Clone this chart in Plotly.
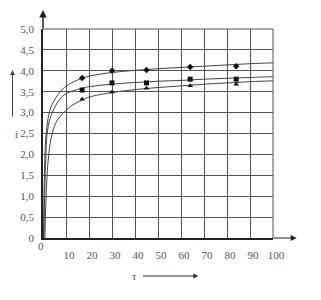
import plotly.graph_objects as go

# measured points
tau_pts = [17, 30, 45, 64, 84]
upper_pts = [3.83, 4.00, 4.02, 4.09, 4.11]
middle_pts = [3.54, 3.71, 3.71, 3.80, 3.80]
lower_pts = [3.32, 3.49, 3.58, 3.64, 3.68]

# fitted curves
upper_tau = [0.2, 0.5, 1, 1.5, 2.5, 4, 7.5, 10, 15, 20, 30, 40, 50, 60, 70, 80, 90, 100]
upper_i = [0.0, 1.2, 2.2, 2.55, 2.95, 3.2, 3.5, 3.63, 3.78, 3.87, 3.96, 4.01, 4.05, 4.08, 4.11, 4.14, 4.17, 4.19]
middle_tau = [0.4, 0.8, 1.2, 1.8, 3, 4, 7, 10, 16, 20, 30, 40, 50, 60, 70, 80, 90, 100]
middle_i = [0.0, 1.2, 1.9, 2.5, 2.85, 3.0, 3.3, 3.45, 3.57, 3.62, 3.68, 3.72, 3.75, 3.77, 3.8, 3.82, 3.84, 3.86]
lower_tau = [0.8, 1.5, 2.5, 4, 6, 9, 12, 17, 20, 30, 40, 50, 60, 70, 80, 90, 100]
lower_i = [0.0, 1.2, 2.0, 2.5, 2.8, 3.0, 3.15, 3.3, 3.37, 3.48, 3.55, 3.6, 3.64, 3.68, 3.71, 3.74, 3.76]

x_ticks = [10, 20, 30, 40, 50, 60, 70, 80, 90, 100]
y_ticks = [0, 0.5, 1.0, 1.5, 2.0, 2.5, 3.0, 3.5, 4.0, 4.5, 5.0]
y_labels = ["0", "0,5", "1,0", "1,5", "2,0", "2,5", "3,0", "3,5", "4,0", "4,5", "5,0"]

FONT = "Liberation Serif"
fig = go.Figure()
for tx, ty in [(upper_tau, upper_i), (middle_tau, middle_i), (lower_tau, lower_i)]:
    fig.add_trace(go.Scatter(x=tx, y=ty, mode="lines", line=dict(color="#444", width=1, shape="spline"),
                             showlegend=False, hoverinfo="skip"))
for py, sym in [(upper_pts, "diamond"), (middle_pts, "square"), (lower_pts, "triangle-up")]:
    fig.add_trace(go.Scatter(x=tau_pts, y=py, mode="markers",
                             marker=dict(symbol=sym, size=5, color="#111"), showlegend=False))

# page body has an 8px margin: shrink figure and left/top margins accordingly
fig.update_layout(
    width=313, height=292, paper_bgcolor="white", plot_bgcolor="white",
    margin=dict(l=31, r=48, t=21, b=62),
    font=dict(family=FONT, size=11, color="#555"),
)
fig.update_xaxes(range=[0, 100], tickvals=x_ticks, ticktext=[str(v) for v in x_ticks],
                 showgrid=True, gridcolor="#555", gridwidth=1, showline=True, linecolor="#222",
                 linewidth=1.5, mirror=False, ticks="", ticklabelstandoff=6, ticklabelshift=3,
                 zeroline=False)
fig.update_yaxes(range=[0, 5], tickvals=y_ticks, ticktext=y_labels,
                 showgrid=True, gridcolor="#555", gridwidth=1, showline=True, linecolor="#222",
                 linewidth=1.5, ticks="", ticklabelstandoff=5, zeroline=False)

fig.add_shape(type="line", xref="paper", yref="paper", x0=1, x1=1, y0=0, y1=1, line=dict(color="#555", width=1))
fig.add_shape(type="line", xref="paper", yref="paper", x0=0, x1=1, y0=1, y1=1, line=dict(color="#555", width=1))

ann = []
ann.append(dict(xref="paper", yref="paper", x=0, y=1.091, ax=0, ay=20, showarrow=True,
                arrowhead=2, arrowsize=1, arrowwidth=1.5, arrowcolor="#222", text=""))
ann.append(dict(xref="paper", yref="paper", x=1.103, y=0, ax=-25, ay=0, showarrow=True,
                arrowhead=2, arrowsize=1, arrowwidth=1.2, arrowcolor="#222", text=""))
ann.append(dict(xref="paper", yref="paper", x=(32 - 39) / 234, y=(238 - 254) / 209, text="0",
                showarrow=False, font=dict(family=FONT, size=11, color="#555")))
ann.append(dict(xref="paper", yref="paper", x=(8 - 39) / 234, y=(238 - 70) / 209, ax=0, ay=48,
                showarrow=True, arrowhead=2, arrowsize=1, arrowwidth=1, arrowcolor="#444", text=""))
ann.append(dict(xref="paper", yref="paper", x=(8 - 39) / 234, y=(238 - 134) / 209, text="i",
                showarrow=False, font=dict(family=FONT, size=11, color="#555")))
ann.append(dict(xref="paper", yref="paper", x=(197 - 39) / 234, y=(238 - 276) / 209, ax=-57, ay=0,
                showarrow=True, arrowhead=2, arrowsize=1, arrowwidth=1, arrowcolor="#333", text=""))
ann.append(dict(xref="paper", yref="paper", x=(132 - 39) / 234, y=(238 - 284) / 209, text="τ",
                showarrow=False, font=dict(family=FONT, size=11, color="#555")))
fig.update_layout(annotations=ann)

fig.write_html("out.html")
